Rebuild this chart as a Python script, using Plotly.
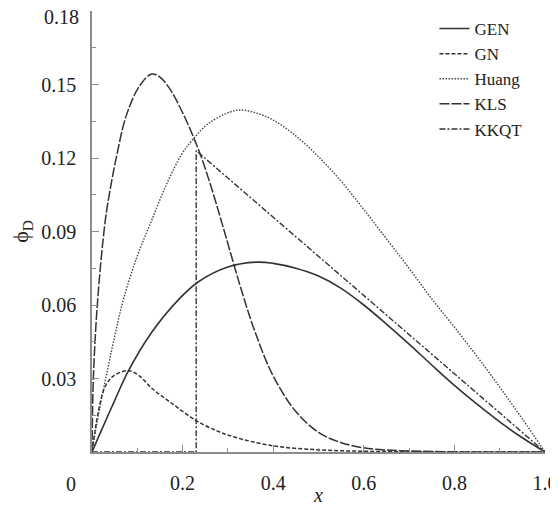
import plotly.graph_objects as go

# values
gen_x = [0, 0.02, 0.05, 0.08, 0.13, 0.19, 0.235, 0.30, 0.364, 0.40, 0.45, 0.50, 0.55, 0.60, 0.65, 0.70, 0.75, 0.80, 0.85, 0.90, 0.95, 1.0]
gen_y = [0, 0.0085, 0.021, 0.033, 0.0484, 0.062, 0.0695, 0.0755, 0.0775, 0.077, 0.075, 0.0718, 0.0668, 0.060, 0.0522, 0.044, 0.0355, 0.0272, 0.0195, 0.0123, 0.0058, 0]

gn_x = [0, 0.014, 0.029, 0.047, 0.08, 0.105, 0.132, 0.176, 0.23, 0.28, 0.316, 0.40, 0.50, 0.60, 0.70, 0.80, 1.0]
gn_y = [0, 0.0165, 0.0267, 0.031, 0.0332, 0.031, 0.026, 0.0199, 0.0128, 0.0083, 0.006, 0.0025, 0.0009, 0.0003, 0.0001, 0, 0]

huang_x = [0, 0.01, 0.0435, 0.069, 0.10, 0.132, 0.165, 0.198, 0.22, 0.26, 0.32, 0.36, 0.40, 0.45, 0.50, 0.55, 0.60, 0.65, 0.70, 0.75, 0.80, 0.85, 0.90, 0.95, 1.0]
huang_y = [0, 0.011, 0.0416, 0.062, 0.08, 0.0947, 0.1095, 0.1215, 0.127, 0.1345, 0.1395, 0.1385, 0.1355, 0.129, 0.1205, 0.1105, 0.099, 0.087, 0.075, 0.0625, 0.051, 0.039, 0.0265, 0.0135, 0]

kls_x = [0, 0.003, 0.0125, 0.029, 0.04, 0.054, 0.076, 0.106, 0.132, 0.15, 0.17, 0.20, 0.238, 0.27, 0.30, 0.33, 0.36, 0.40, 0.45, 0.50, 0.55, 0.60, 0.66, 0.75, 0.85, 1.0]
kls_y = [0, 0.03, 0.062, 0.094, 0.107, 0.1205, 0.1375, 0.1497, 0.1543, 0.153, 0.1487, 0.1385, 0.122, 0.104, 0.085, 0.066, 0.049, 0.031, 0.0165, 0.008, 0.0038, 0.0017, 0.0007, 0.0002, 0, 0]

kkqt_x = [0, 0.23, 0.23, 1.0]
kkqt_y = [0, 0, 0.123, 0]

y_ticks = [0.03, 0.06, 0.09, 0.12, 0.15, 0.18]
x_ticks = [0.2, 0.4, 0.6, 0.8, 1.0]
x_labels = ["0.2", "0.4", "0.6", "0.8", "1.0"]

serif = "Liberation Serif"
ink = "#333333"
axis_col = "#8c8c8c"

fig = go.Figure()
fig.add_scatter(x=gen_x, y=gen_y, name="GEN", mode="lines", line=dict(color=ink, width=1.6, dash="solid", shape="spline"))
fig.add_scatter(x=gn_x, y=gn_y, name="GN", mode="lines", line=dict(color=ink, width=1.5, dash="4px,2px", shape="spline"))
fig.add_scatter(x=huang_x, y=huang_y, name="Huang", mode="lines", line=dict(color="#444444", width=1.4, dash="1.5px,1.5px", shape="spline"))
fig.add_scatter(x=kls_x, y=kls_y, name="KLS", mode="lines", line=dict(color=ink, width=1.5, dash="10px,2px", shape="spline"))
fig.add_scatter(x=kkqt_x, y=kkqt_y, name="KKQT", mode="lines", line=dict(color=ink, width=1.4, dash="6px,2px,2px,2px"))

# top label sits right at the page edge, so it is drawn as a note a little lower
y_text = [f"{v:.2f}" for v in y_ticks[:-1]] + [""]

# page body adds an 8px margin, so the figure is a bit smaller than the window
fig.update_layout(
    width=550, height=498,
    margin=dict(l=84, r=13, t=3, b=54),
    plot_bgcolor="white", paper_bgcolor="white",
    font=dict(family=serif, size=20, color="#222"),
    showlegend=True,
    legend=dict(x=0.756, y=1.0, xanchor="left", yanchor="top",
                bgcolor="rgba(0,0,0,0)", font=dict(size=17), tracegroupgap=0),
    xaxis=dict(range=[0, 1.0], showline=True, linecolor=axis_col, linewidth=1.5, automargin=False,
               showgrid=False, zeroline=False, tickmode="array", tickvals=x_ticks, ticktext=x_labels,
               ticks="inside", ticklen=7, tickcolor=axis_col, ticklabelstandoff=12,
               minor=dict(ticks="inside", ticklen=4, tickcolor=axis_col, tickmode="linear", tick0=0, dtick=0.1),
               title=dict(text="<i>x</i>", standoff=4, font=dict(size=20))),
    yaxis=dict(range=[0, 0.18], showline=True, linecolor=axis_col, linewidth=1.5, automargin=False,
               showgrid=False, zeroline=False, tickmode="array", tickvals=y_ticks, ticktext=y_text,
               ticks="inside", ticklen=7, tickcolor=axis_col, ticklabelstandoff=10,
               minor=dict(ticks="inside", ticklen=4, tickcolor=axis_col, tickmode="linear", tick0=0, dtick=0.015),
               title=dict(text="ϕ<sub>D</sub>", standoff=28, font=dict(size=22))),
)
fig.add_annotation(x=0, y=y_ticks[-1], xref="x", yref="y", text=f"{y_ticks[-1]:.2f}", showarrow=False,
                   xanchor="right", yanchor="middle", xshift=-11, yshift=-6,
                   font=dict(family=serif, size=20, color="#222"))
fig.add_annotation(x=0, y=0, xref="x", yref="y", text="0", showarrow=False,
                   xanchor="right", yanchor="top", xshift=-14, yshift=-19,
                   font=dict(family=serif, size=20, color="#222"))

fig.write_html("out.html")
